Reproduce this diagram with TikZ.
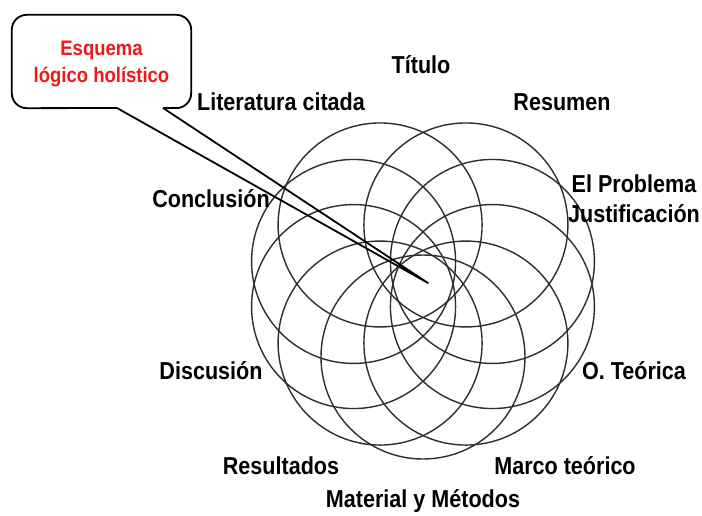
\documentclass[tikz,border=0pt]{standalone}
\usepackage{fontspec}
\setmainfont{Liberation Sans}
\newfontfamily\narrowsans[FakeStretch=0.88]{Liberation Sans}
\usetikzlibrary{calc}
\definecolor{calred}{HTML}{F01818}
\definecolor{ringgray}{HTML}{2E2E2E}
\begin{document}
\begin{tikzpicture}[x=1pt,y=-1pt,
  ring/.style={draw=ringgray, line width=1.4pt},
  lab/.style={font=\narrowsans\fontsize{24.5}{28}\selectfont\bfseries, anchor=base, inner sep=0pt},
  calltext/.style={font=\narrowsans\fontsize{21}{24}\selectfont\bfseries, text=calred, anchor=base, inner sep=0pt},
  callline/.style={draw=black, line width=1.8pt, line join=round},
]
\fill[white] (0,0) rectangle (702,515);
\useasboundingbox (0,0) rectangle (702,515);
\coordinate (center) at (423,284);
\foreach \a in {18,54,90,126,162,198,234,306,342}
  \draw[ring] ($(center)+(\a:73)$) circle[radius=102pt];

% labels
\node[lab] (titulo) at (421,73) {Título};
\node[lab] (literatura) at (281,110) {Literatura citada};
\node[lab] (resumen) at (562,110) {Resumen};
\node[lab] (problema) at (634,192) {El Problema};
\node[lab] (justif) at (634,222) {Justificación};
\node[lab] (conclusion) at (211,207) {Conclusión};
\node[lab] (discusion) at (211,379) {Discusión};
\node[lab] (oteorica) at (634,379) {O. Teórica};
\node[lab] (resultados) at (281,474) {Resultados};
\node[lab] (marco) at (565,474) {Marco teórico};
\node[lab] (material) at (423,507) {Material y Métodos};

% callout
\node[fill=white, minimum width=179pt, minimum height=93pt, inner sep=0pt] (callout) at (101.5,61.5) {};
\node[calltext] (esq) at (101.5,55) {Esquema};
\node[calltext] (logico) at (101.5,82) {lógico holístico};
\coordinate (tl) at (117,108);
\coordinate (tr) at (163,108);
\coordinate (tip) at (428,283);
\draw[callline] (tl) -- (tip) -- (tr);
\draw[callline, rounded corners=15pt] (tr) -- (callout.south east) -- (callout.north east) -- (callout.north west) -- (callout.south west) -- (tl);
\end{tikzpicture}
\end{document}
